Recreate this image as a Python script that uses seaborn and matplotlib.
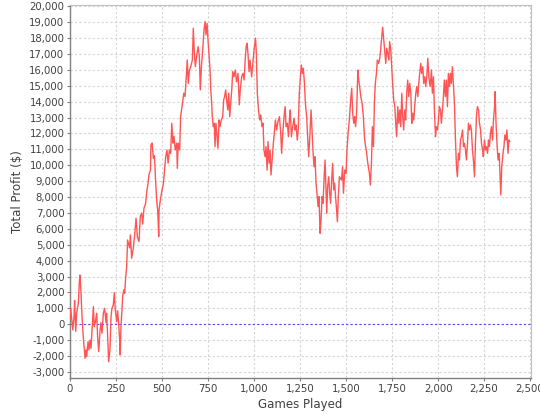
import pandas as pd
import seaborn as sns
import matplotlib.pyplot as plt
from matplotlib.ticker import FuncFormatter, MultipleLocator

games = [
    1, 4, 15, 22, 25, 31, 36, 45, 51, 54, 60, 65, 72, 82, 88, 90, 98, 103, 109, 114,
    121, 127, 132, 138, 145, 150, 156, 163, 168, 174, 181, 188, 196, 199, 205, 210, 217, 223, 228, 235,
    241, 246, 254, 259, 265, 270, 273, 277, 283, 286, 292, 297, 303, 308, 313, 324, 328, 335, 344, 353,
    359, 366, 375, 382, 389, 395, 402, 411, 417, 424, 429, 437, 440, 446, 453, 459, 464, 471, 477, 482,
    484, 491, 500, 507, 515, 520, 527, 533, 540, 547, 553, 560, 565, 572, 580, 583, 588, 596, 601, 609,
    618, 625, 632, 637, 643, 649, 656, 665, 670, 675, 681, 688, 696, 703, 708, 714, 721, 728, 734, 739,
    745, 750, 755, 761, 765, 770, 773, 779, 784, 788, 793, 799, 804, 810, 815, 822, 830, 835, 840, 846,
    851, 857, 862, 868, 873, 879, 884, 891, 898, 905, 913, 920, 925, 933, 940, 946, 951, 957, 962, 967,
    973, 978, 987, 992, 1000, 1008, 1012, 1018, 1022, 1025, 1031, 1036, 1044, 1049, 1054, 1060, 1065, 1071, 1076, 1082,
    1087, 1092, 1098, 1105, 1110, 1116, 1123, 1130, 1138, 1145, 1150, 1156, 1163, 1169, 1174, 1181, 1187, 1192, 1197, 1203,
    1210, 1218, 1223, 1228, 1235, 1240, 1246, 1252, 1257, 1263, 1268, 1274, 1279, 1286, 1292, 1297, 1304, 1310, 1315, 1321,
    1326, 1331, 1337, 1342, 1348, 1353, 1359, 1364, 1370, 1375, 1381, 1386, 1391, 1395, 1400, 1406, 1411, 1416, 1422, 1427,
    1433, 1438, 1445, 1453, 1458, 1464, 1475, 1481, 1486, 1493, 1500, 1505, 1511, 1518, 1525, 1531, 1536, 1542, 1547, 1552,
    1558, 1564, 1569, 1574, 1580, 1587, 1594, 1600, 1605, 1611, 1616, 1621, 1627, 1632, 1638, 1643, 1649, 1654, 1659, 1665,
    1670, 1677, 1683, 1688, 1694, 1699, 1705, 1710, 1716, 1721, 1727, 1732, 1737, 1743, 1748, 1754, 1759, 1765, 1770, 1775,
    1781, 1786, 1792, 1797, 1803, 1808, 1813, 1819, 1824, 1830, 1835, 1841, 1846, 1852, 1857, 1862, 1868, 1873, 1879, 1884,
    1890, 1895, 1900, 1906, 1911, 1917, 1922, 1928, 1933, 1939, 1944, 1950, 1957, 1964, 1969, 1975, 1980, 1986, 1991, 1997,
    2002, 2007, 2013, 2018, 2024, 2029, 2034, 2040, 2045, 2051, 2056, 2062, 2067, 2072, 2078, 2083, 2089, 2094, 2100, 2105,
    2111, 2116, 2122, 2127, 2133, 2138, 2143, 2149, 2154, 2160, 2165, 2171, 2176, 2181, 2187, 2192, 2198, 2203, 2209, 2214,
    2220, 2225, 2231, 2236, 2242, 2246, 2252, 2258, 2263, 2269, 2274, 2279, 2285, 2290, 2296, 2301, 2307, 2310, 2315, 2321,
    2326, 2332, 2337, 2341, 2346, 2353, 2358, 2363, 2369, 2374, 2380, 2385, 2390,
]

profit = [
    300, 1000, -360, 500, 1500, -450, 690, 1300, 2680, 3100, 1950, 580, -780, -2140, -1620, -2040, -1090, -1620, -990, -1520,
    -150, 1110, -150, 160, 690, -780, -1720, -460, 100, -570, 690, 1000, 100, 690, -880, -2350, -1620, 480, 1000, 1210,
    1990, 900, 160, 850, -100, -990, -1930, -140, 1000, 1740, 2160, 1950, 3000, 3620, 5300, 4800, 5620, 4150, 4800, 5830,
    6670, 5500, 5200, 6770, 7000, 6300, 7300, 7600, 8340, 8870, 9400, 9700, 11280, 11400, 10440, 10600, 9280, 7820, 7080, 5510,
    7190, 7820, 8450, 8800, 9910, 10540, 10960, 10130, 10960, 10750, 12640, 11390, 11810, 10960, 11390, 9810, 11390, 10960, 13060, 13690,
    14530, 14320, 15570, 16620, 15150, 15990, 16200, 16620, 18620, 17250, 16200, 16830, 17460, 16830, 14740, 16200, 17250, 18510, 19040, 18200,
    18930, 17880, 17040, 15990, 14740, 13900, 13060, 12430, 12640, 11170, 12640, 11810, 11070, 12850, 12430, 12850, 13060, 14110, 14320, 14740,
    14110, 13480, 14530, 13060, 13900, 14740, 15890, 15570, 15990, 15250, 15780, 13800, 14740, 15570, 15780, 15360, 16410, 17460, 17670, 17040,
    15890, 16620, 15570, 16200, 17250, 18000, 17200, 14500, 13900, 13380, 12850, 13170, 12430, 12640, 10960, 10540, 11170, 9700, 11490, 10130,
    10960, 9390, 10330, 11390, 12010, 12850, 12220, 12750, 13060, 12010, 10750, 12010, 13060, 13690, 12430, 12640, 11800, 12850, 13480, 11800,
    12430, 12960, 12220, 12540, 11590, 12220, 14530, 15570, 16310, 15780, 16100, 15150, 13900, 13060, 11590, 10540, 12010, 13480, 12220, 10750,
    9910, 10540, 8870, 8240, 7400, 8030, 5720, 6560, 8030, 7610, 9280, 10330, 8450, 6980, 8660, 9280, 8240, 7610, 9070, 10120,
    8450, 8870, 7720, 6450, 8030, 9280, 9070, 9910, 8240, 9700, 9490, 10960, 12010, 12850, 14110, 14840, 13270, 12640, 13060, 12430,
    13480, 15990, 15360, 14950, 14320, 13900, 13060, 11800, 11280, 10850, 10330, 9910, 9490, 8760, 10120, 12430, 11170, 13900, 15150, 15780,
    16620, 16410, 16730, 17250, 18090, 18680, 17880, 17250, 16410, 17360, 17040, 16620, 17780, 17250, 16200, 14950, 14110, 13690, 12640, 11800,
    13690, 12640, 13480, 12430, 14530, 13060, 12220, 13480, 12850, 14530, 15360, 14320, 15150, 14530, 12640, 13270, 12850, 13690, 14530, 14950,
    14320, 15150, 15780, 16410, 15780, 16200, 15150, 15570, 14950, 15570, 16730, 15570, 14950, 16000, 14530, 15570, 13480, 11800, 12430, 12220,
    12850, 13690, 13480, 12640, 13480, 14320, 15360, 14320, 15360, 13690, 15780, 14950, 15780, 15150, 16200, 15150, 13900, 11800, 9910, 9280,
    10750, 10330, 11590, 11800, 12220, 11170, 11380, 10960, 10330, 11380, 12640, 12220, 12540, 12220, 10960, 10330, 9280, 11380, 13170, 13690,
    13480, 12640, 12220, 11380, 10960, 10540, 11590, 10960, 11170, 10750, 11590, 11170, 12010, 12430, 11590, 12850, 13690, 14630, 12640, 11170,
    10330, 10750, 9280, 8130, 9910, 10750, 11170, 11910, 11590, 12220, 10750, 11590, 11490,
]

df = pd.DataFrame({"games": games, "profit": profit})

sns.set_theme(style="white")
plt.rcParams["font.family"] = ["DejaVu Sans"]

fig, ax = plt.subplots(figsize=(5.4, 4.2), dpi=100)
fig.subplots_adjust(left=70 / 540, right=531 / 540, bottom=1 - 378 / 420, top=1 - 4.7 / 420)

ax.set_xlim(0, 2505)
ax.set_ylim(-3380, 20100)
ax.xaxis.set_major_locator(MultipleLocator(250))
ax.yaxis.set_major_locator(MultipleLocator(1000))
fmt = FuncFormatter(lambda v, pos: f"{v:,.0f}")
ax.xaxis.set_major_formatter(fmt)
ax.yaxis.set_major_formatter(fmt)

ax.grid(True, color="#d4d4d4", linestyle=(0, (2, 2)), linewidth=0.8)
ax.set_axisbelow(True)

ax.axhline(0, color="#4a4aff", linestyle=(0, (2, 2)), linewidth=0.8, zorder=2)
sns.lineplot(data=df, x="games", y="profit", ax=ax, color="#ff5555",
             linewidth=1.0, estimator=None, sort=False, zorder=3)

for side in ["top", "right"]:
    ax.spines[side].set_color("#c0c0c0")
    ax.spines[side].set_linewidth(0.8)
for side in ["left", "bottom"]:
    ax.spines[side].set_color("#808080")
    ax.spines[side].set_linewidth(1.0)

ax.tick_params(axis="both", which="major", direction="out", length=2, width=0.8,
               color="#808080", labelsize=7.3, labelcolor="#404040", pad=2,
               left=True, bottom=True)
ax.set_xlabel("Games Played", fontsize=8.5, color="#404040", labelpad=3)
ax.set_ylabel("Total Profit ($)", fontsize=8.5, color="#404040", labelpad=4)

fig.savefig("out.png", dpi=100)
plt.close(fig)
